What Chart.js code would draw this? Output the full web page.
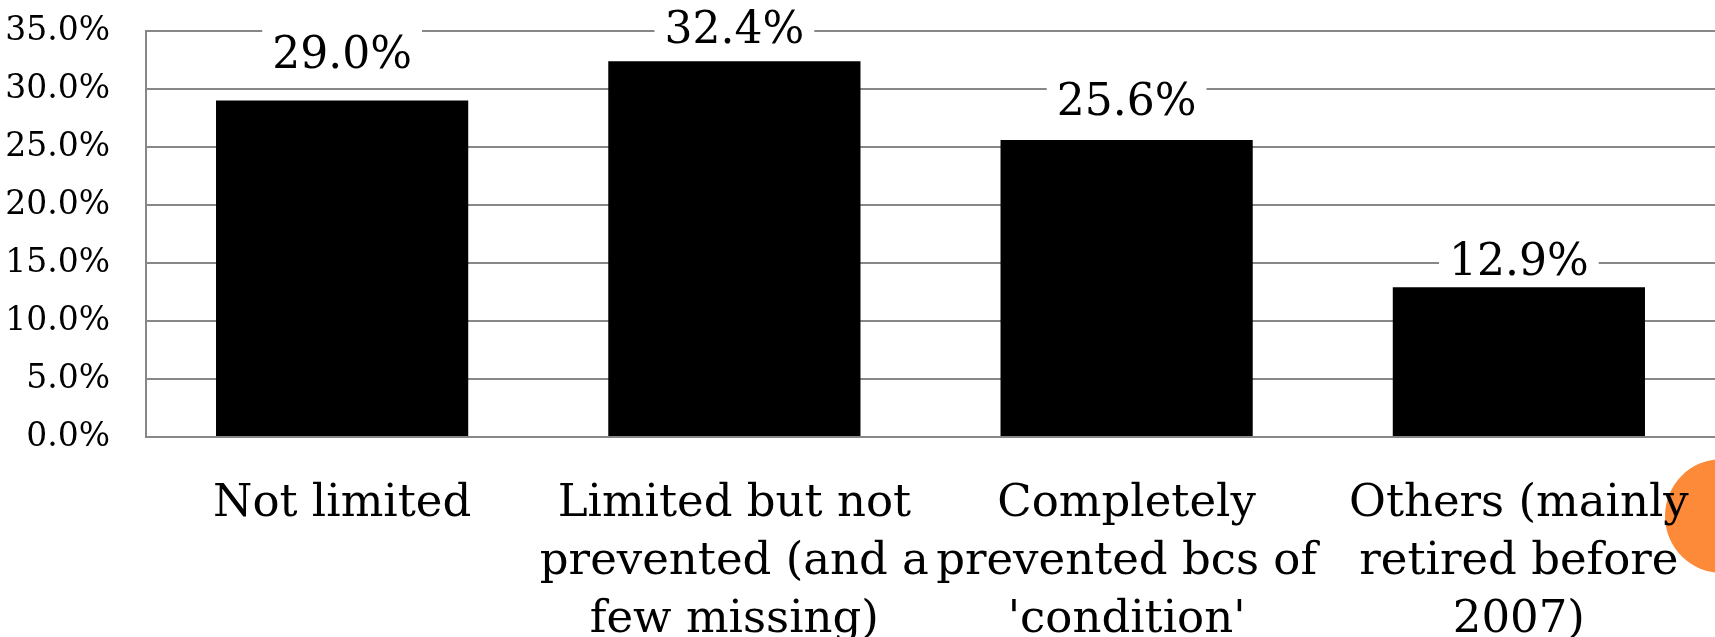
<!DOCTYPE html>
<html>
<head>
<meta charset="utf-8">
<script src="https://cdn.jsdelivr.net/npm/chart.js@4/dist/chart.umd.min.js"></script>
<style>
  html, body { margin: 0; padding: 0; background: #fff; }
  #wrap { width: 1715px; height: 637px; position: relative; }
</style>
</head>
<body>
<div id="wrap"><canvas id="barChart" width="1715" height="637"></canvas></div>
<script>
// Data
var categories = [
    ["Not limited"],
    ["Limited but not", "prevented (and a", "few missing)"],
    ["Completely", "prevented bcs of", "'condition'"],
    ["Others (mainly", "retired before", "2007)"]
];
var shares = [29.0, 32.4, 25.6, 12.9];
var yTicks = [0, 5, 10, 15, 20, 25, 30, 35];

var serif = "'DejaVu Serif', serif";

// value labels above bars, on a white box that hides the gridline
var valueLabels = {
    id: "valueLabels",
    afterDatasetsDraw: function (chart, args, opts) {
        var ctx = chart.ctx;
        var meta = chart.getDatasetMeta(0);
        ctx.save();
        ctx.font = "44px " + serif;
        ctx.textAlign = "center";
        ctx.textBaseline = "alphabetic";
        meta.data.forEach(function (bar, i) {
            var txt = shares[i].toFixed(1) + "%";
            var w = ctx.measureText(txt).width;
            var base = bar.y - opts.gaps[i];
            ctx.fillStyle = "#fff";
            ctx.fillRect(bar.x - w / 2 - 10, base - 44, w + 20, 54);
            ctx.fillStyle = "#000";
            ctx.fillText(txt, bar.x, base);
        });
        ctx.restore();
    }
};

// orange slide decoration at the right edge
var slideDot = {
    id: "slideDot",
    beforeDraw: function (chart) {
        var ctx = chart.ctx;
        ctx.save();
        ctx.fillStyle = "#fd8a38";
        ctx.beginPath();
        ctx.arc(1722, 516, 57, 0, Math.PI * 2);
        ctx.fill();
        ctx.restore();
    }
};

new Chart(document.getElementById("barChart").getContext("2d"), {
    type: "bar",
    data: {
        labels: categories,
        datasets: [{
            data: shares,
            backgroundColor: "#000",
            barPercentage: 0.643,
            categoryPercentage: 1.0
        }]
    },
    options: {
        responsive: false,
        animation: false,
        layout: { padding: { top: 31, left: 5, right: 0, bottom: 0 } },
        plugins: {
            legend: { display: false },
            tooltip: { enabled: false },
            valueLabels: { gaps: [33, 18, 25, 12] }
        },
        scales: {
            x: {
                grid: { display: false },
                border: { display: false },
                ticks: {
                    color: "#000",
                    font: { family: serif, size: 45, lineHeight: 1.28 },
                    padding: 31,
                    maxRotation: 0,
                    autoSkip: false
                },
                afterFit: function (scale) {
                    scale.height = 200;
                    scale.paddingLeft = 0;
                    scale.paddingRight = 0;
                }
            },
            y: {
                min: 0,
                max: 35,
                afterBuildTicks: function (scale) {
                    scale.ticks = yTicks.map(function (v) { return { value: v }; });
                },
                grid: { color: "#878787", lineWidth: 2, drawTicks: false },
                border: { color: "#878787", width: 2 },
                ticks: {
                    color: "#000",
                    font: { family: serif, size: 33 },
                    padding: 36,
                    callback: function (v) { return v.toFixed(1) + "%"; }
                },
                afterFit: function (scale) {
                    scale.width = 141;
                    scale.paddingTop = 0;
                    scale.paddingBottom = 0;
                }
            }
        }
    },
    plugins: [slideDot, valueLabels]
});
</script>
</body>
</html>
